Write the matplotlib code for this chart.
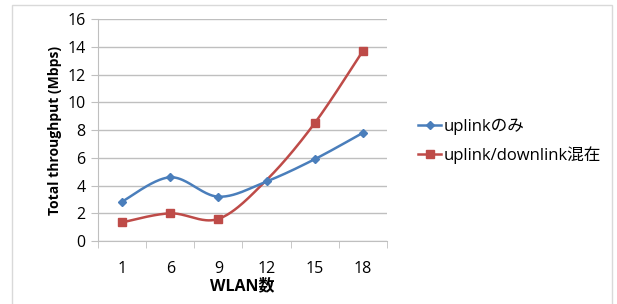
import numpy as np
import matplotlib.pyplot as plt
from matplotlib.patches import Rectangle

plt.rcParams['font.family'] = ['Open Sans', 'Noto Sans CJK JP', 'DejaVu Sans']

# data
wlan = ["1", "6", "9", "12", "15", "18"]
uplink_only = [2.85, 4.6, 3.2, 4.3, 5.9, 7.8]
uplink_downlink = [1.35, 2.0, 1.6, 4.4, 8.5, 13.7]

blue = "#4a7ebb"
red = "#be4b48"
axis_grey = "#bfbfbf"


# Excel-like smoothed line: Catmull-Rom segments as cubic Bezier
def smooth(xs, ys, steps=40):
    pts = np.column_stack([xs, ys]).astype(float)
    n = len(pts)
    out = []
    for i in range(n - 1):
        p0 = pts[max(i - 1, 0)]
        p1 = pts[i]
        p2 = pts[i + 1]
        p3 = pts[min(i + 2, n - 1)]
        c1 = p1 + (p2 - p0) / 6
        c2 = p2 - (p3 - p1) / 6
        t = np.linspace(0, 1, steps)[:, None]
        seg = ((1 - t) ** 3) * p1 + 3 * ((1 - t) ** 2) * t * c1 + 3 * (1 - t) * t ** 2 * c2 + t ** 3 * p2
        out.append(seg if i == 0 else seg[1:])
    seg = np.vstack(out)
    return seg[:, 0], seg[:, 1]


fig = plt.figure(figsize=(6.17, 3.04), dpi=100)
fig.patches.append(Rectangle((12 / 617, -0.01), 600 / 617, 1 - 5 / 304 + 0.01,
                             transform=fig.transFigure, fill=False,
                             edgecolor="#d9d9d9", linewidth=1))
ax = fig.add_axes([0.159, 0.207, 0.468, 0.73])

x = np.arange(len(wlan))
series = [(uplink_downlink, red, "s", 6, "uplink/downlink混在", [0, 1, 2, 4, 5]),
          (uplink_only, blue, "D", 4.5, "uplinkのみ", None)]
for vals, col, mk, ms, lab, every in series:
    sx, sy = smooth(x, vals)
    ax.plot(sx, sy, color=col, linewidth=1.8)
    ax.plot(x, vals, linestyle="none", marker=mk, markersize=ms, color=col,
            markevery=every)
handles = [ax.plot([], [], color=c, marker=m, markersize=s, linewidth=1.8)[0]
           for _, c, m, s, _, _ in series[::-1]]
labels = [lab for _, _, _, _, lab, _ in series[::-1]]

ax.set_xlim(-0.5, len(wlan) - 0.5)
ax.set_ylim(0, 16)
ax.set_yticks(range(0, 17, 2))
ax.set_xticks(x)
ax.set_xticklabels(wlan)
ax.set_xticks(np.arange(-0.5, len(wlan), 1), minor=True)
ax.tick_params(axis="x", which="major", length=0, pad=14, labelsize=11.5)
ax.tick_params(axis="x", which="minor", length=5, color=axis_grey, direction="out")
ax.tick_params(axis="y", length=5, color=axis_grey, labelsize=11.5, pad=4)
ax.grid(axis="y", color=axis_grey, linewidth=1)
ax.set_axisbelow(True)
for s in ["top", "right"]:
    ax.spines[s].set_visible(False)
for s in ["left", "bottom"]:
    ax.spines[s].set_color(axis_grey)

ax.set_xlabel("WLAN数", fontsize=11.5, fontweight="bold", labelpad=1)
ax.set_ylabel("Total throughput (Mbps)", fontsize=10, fontweight="bold", labelpad=4)

ax.legend(handles, labels, loc="center left", bbox_to_anchor=(1.085, 0.45),
          frameon=False, fontsize=12, handlelength=1.4, handletextpad=0.15,
          labelspacing=0.65, borderaxespad=0)

fig.savefig("out.png", dpi=100)
